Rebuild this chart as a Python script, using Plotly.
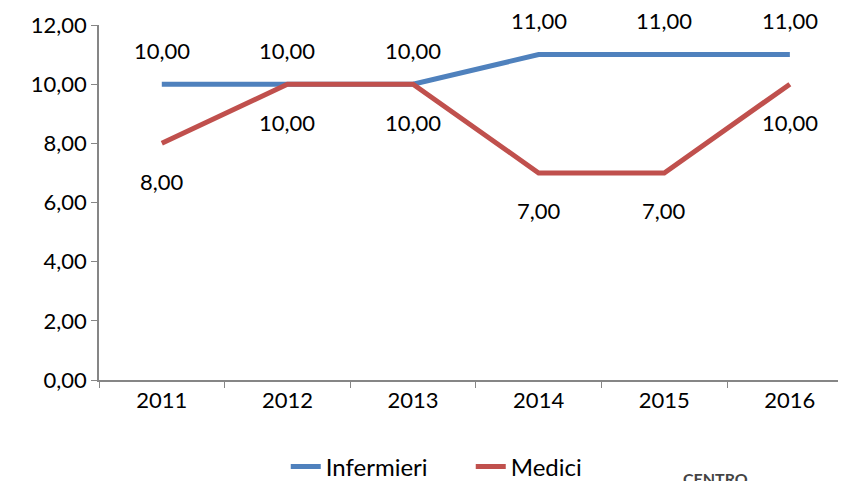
import plotly.graph_objects as go

years = ["2011", "2012", "2013", "2014", "2015", "2016"]
infermieri = [10, 10, 10, 11, 11, 11]
medici = [8, 10, 10, 7, 7, 10]
y_ticks = [0, 2, 4, 6, 8, 10, 12]

BLUE = "#4F81BD"
RED = "#C0504D"
FONT = "Lato, Open Sans, sans-serif"


def fmt(v):
    return f"{v:.2f}".replace(".", ",")


fig = go.Figure()
fig.add_trace(go.Scatter(
    x=years, y=infermieri, name="Infermieri", mode="lines",
    line=dict(color=BLUE, width=5),
))
fig.add_trace(go.Scatter(
    x=years, y=medici, name="Medici", mode="lines",
    line=dict(color=RED, width=5),
))

# data labels: blue above, red below (x given as category index)
annotations = []
for i, v in enumerate(infermieri):
    annotations.append(dict(x=i, y=v, text=fmt(v), showarrow=False, yshift=34,
                            font=dict(size=22, color="black", family=FONT)))
for i, v in enumerate(medici):
    annotations.append(dict(x=i, y=v, text=fmt(v), showarrow=False, yshift=-38,
                            font=dict(size=22, color="black", family=FONT)))

# watermark partially cut off at the bottom
annotations.append(dict(xref="paper", yref="paper", x=0.825, y=-0.278,
                        xanchor="center", yanchor="middle", text="<b>CENTRO</b>",
                        showarrow=False, font=dict(size=16, color="#444444", family=FONT)))

fig.update_layout(
    width=846, height=481,
    margin=dict(l=91, r=8, t=17, b=109, autoexpand=False),
    paper_bgcolor="white", plot_bgcolor="white",
    font=dict(family=FONT, size=22, color="black"),
    showlegend=True,
    legend=dict(orientation="h", x=0.25, xanchor="left", y=-0.245, yanchor="middle",
                font=dict(size=24), entrywidth=140, entrywidthmode="pixels",
                tracegroupgap=0),
    annotations=annotations,
)
fig.update_xaxes(
    type="category", range=[-0.5, 5.447], automargin=False,
    showline=True, linecolor="#868686", linewidth=1.5,
    ticks="outside", tickson="boundaries", ticklen=6, tickcolor="#868686",
    showgrid=False, zeroline=False,
)
fig.update_yaxes(
    range=[0, 12], tickvals=y_ticks, ticktext=[fmt(v) for v in y_ticks],
    automargin=False,
    showline=True, linecolor="#868686", linewidth=1.5,
    ticks="outside", ticklen=6, tickcolor="#868686",
    showgrid=False, zeroline=False,
)

fig.write_html("out.html")
